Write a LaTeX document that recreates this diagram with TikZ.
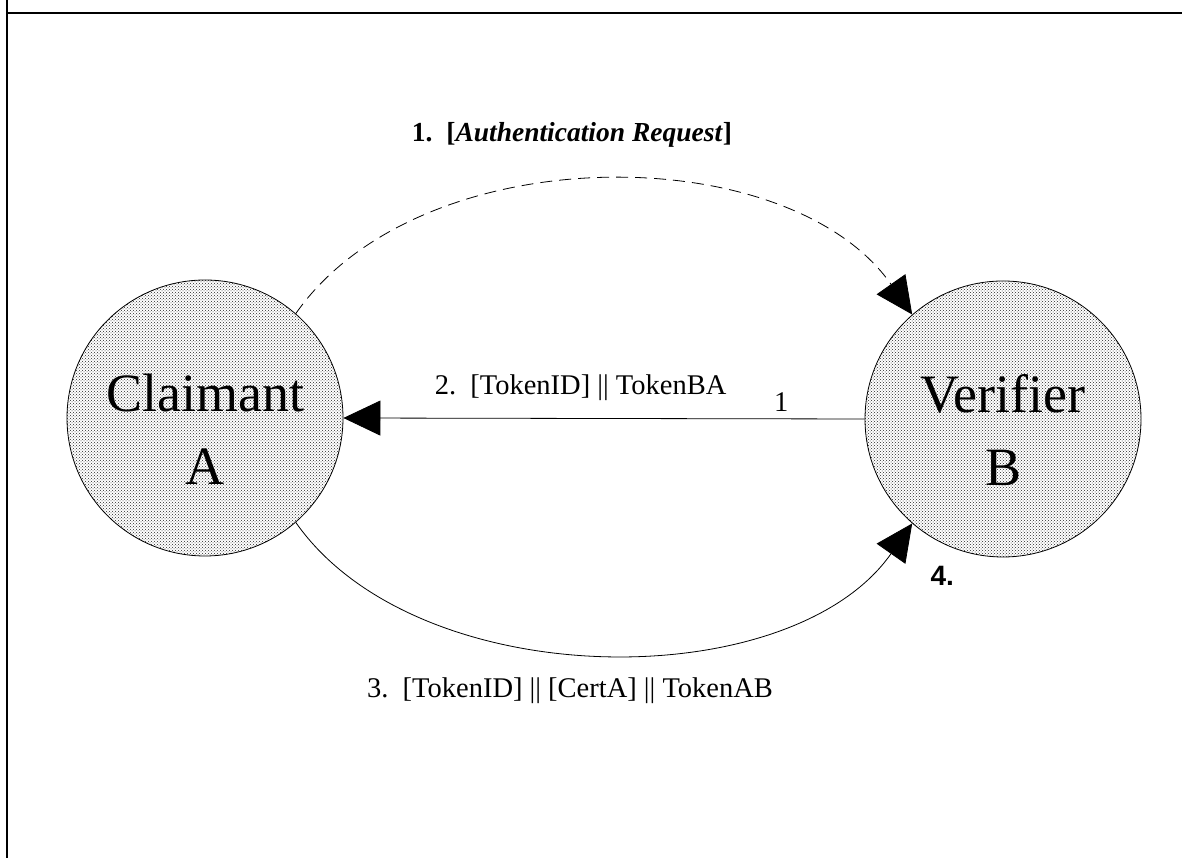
\documentclass[tikz,border=0pt]{standalone}
\usepackage{fontspec}
\setmainfont{Liberation Serif}
\newfontfamily\labelsans{Liberation Sans}
\usetikzlibrary{arrows.meta,patterns}

\begin{document}
\begin{tikzpicture}[x=1pt,y=1pt]
	\useasboundingbox (0,0) rectangle (1182,858);
	% frame
	\draw[line width=2pt] (6.7,858) -- (6.7,845) -- (1182,845);
	\draw[line width=2pt] (6.7,858) -- (6.7,0);

	\begin{scope}[every node/.style={circle,draw,line width=.8pt,minimum size=276pt,inner sep=0pt,
			pattern=crosshatch dots,pattern color=black!85,align=center,
			text height=134pt,text depth=0pt,font=\fontsize{54}{73}\selectfont}]
		\node (claimant) at (205,440) {Claimant\\A};
		\node (verifier) at (1003,439) {Verifier\\B};
	\end{scope}

	\begin{scope}[every edge/.style={draw=black,line width=.8pt},
		every node/.style={font=\fontsize{28.5}{34}\selectfont,inner sep=0pt,anchor=base}]
		\path [-{Triangle[length=37pt,width=35pt]}] (claimant.49) edge [dash pattern=on 12pt off 7pt,out=55,in=125,looseness=0.9]
			node [xshift=-32pt,yshift=40pt,font=\fontsize{27.5}{34}\selectfont\bfseries] {1.\ \ [\textit{Authentication Request}]} (verifier.131);
		\path [-{Triangle[length=37pt,width=35pt]}] (verifier.west) edge
			node [pos=0.545,yshift=24pt] {2.\ \ [TokenID] || TokenBA}
			node [pos=0.16,yshift=7pt] {1} (claimant.east);
		\path [-{Triangle[length=37pt,width=35pt]}] (claimant.-49) edge [out=-55,in=-125,looseness=0.88]
			node [xshift=-34pt,yshift=-45pt] {3.\ \ [TokenID] || [CertA] || TokenAB}
			node [pos=1,anchor=base west,xshift=18pt,yshift=-62pt,font=\labelsans\bfseries\fontsize{28}{34}\selectfont] {4.} (verifier.-131);
	\end{scope}
\end{tikzpicture}
\end{document}
